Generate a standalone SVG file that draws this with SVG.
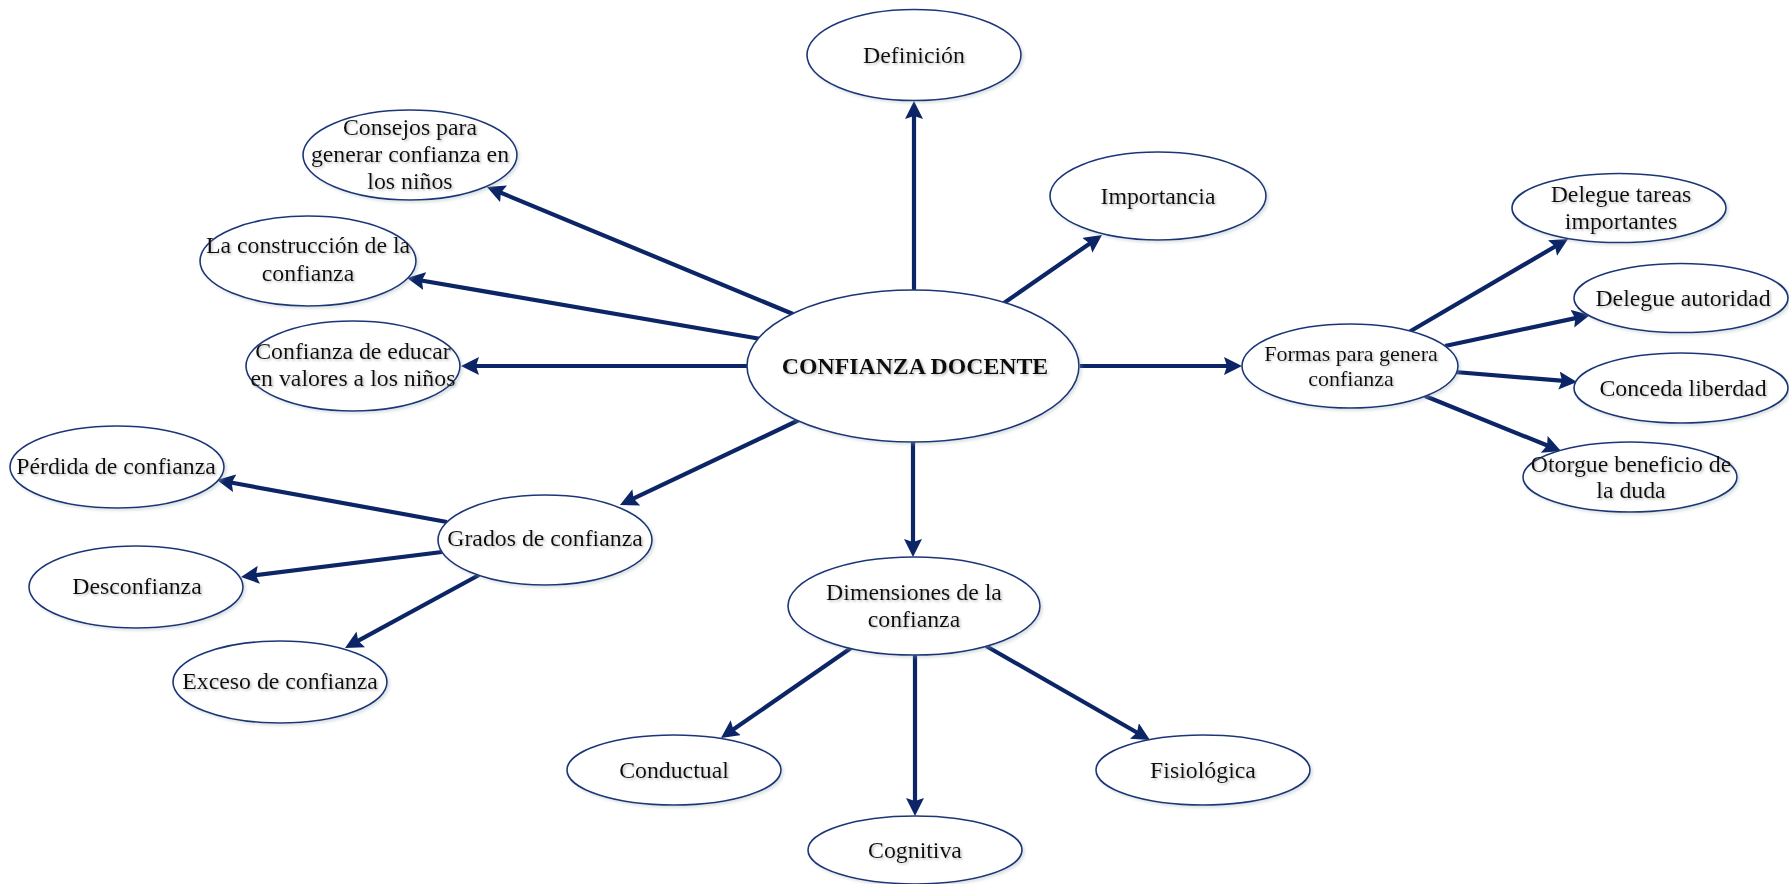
<svg xmlns="http://www.w3.org/2000/svg" width="1789" height="884" viewBox="0 0 1789 884">
<style>
.n ellipse{fill:#fff;stroke:#1a3679;stroke-width:1.6;filter:url(#sh)}
.n text{font-family:"Liberation Serif","Times New Roman",serif;font-size:23.8px;fill:#111;text-anchor:middle;filter:url(#ts)}
.e path{fill:none;stroke:#0b2566;stroke-width:4.2;marker-end:url(#ah)}
</style>
<defs>
<filter id="sh" x="-10%" y="-10%" width="125%" height="130%"><feDropShadow dx="2" dy="2" stdDeviation="1.5" flood-color="#9aa" flood-opacity="0.35"/></filter>
<filter id="ts" x="-10%" y="-30%" width="120%" height="160%"><feDropShadow dx="1.5" dy="1.5" stdDeviation="1" flood-color="#888" flood-opacity="0.55"/></filter>
<marker id="ah" markerUnits="userSpaceOnUse" viewBox="0 0 18 18" markerWidth="18" markerHeight="18" refX="8" refY="9" orient="auto"><path d="M0,0 L18,9 L0,18 L3,9 z" fill="#0b2566"/></marker>
</defs>
<g id="connectors" class="e">
<path d="M914,290 L914,111"/>
<path d="M1004,303 L1093.8,240.7"/>
<path d="M793,314 L496.2,190.8"/>
<path d="M761,339 L416.9,279.7"/>
<path d="M747,366 L471,366"/>
<path d="M799,420 L629,500.7"/>
<path d="M913,442 L913,547"/>
<path d="M1080,366 L1232,366"/>
<path d="M1409,332 L1559.4,244"/>
<path d="M1445,346 L1580.2,317.1"/>
<path d="M1455,372 L1567,381.2"/>
<path d="M1425,396 L1551.7,447.3"/>
<path d="M447,522 L226.8,481.8"/>
<path d="M442,552 L250.9,575.8"/>
<path d="M479,575 L353.8,643.2"/>
<path d="M851,648 L729.2,732.3"/>
<path d="M915,655 L915,806"/>
<path d="M986,646 L1141.3,735"/>
</g>
<g id="center" class="n"><ellipse cx="913" cy="366" rx="166" ry="76"/><text x="915" y="374" style="font-weight:bold">CONFIANZA DOCENTE</text></g>
<g id="definicion" class="n"><ellipse cx="914" cy="55" rx="107" ry="45.5"/><text x="914" y="63">Definición</text></g>
<g id="importancia" class="n"><ellipse cx="1158" cy="196" rx="108" ry="44"/><text x="1158" y="204">Importancia</text></g>
<g id="consejos" class="n"><ellipse cx="410" cy="155" rx="107" ry="45"/><text x="410" y="135">Consejos para</text><text x="410" y="162">generar confianza en</text><text x="410" y="189">los niños</text></g>
<g id="construccion" class="n"><ellipse cx="308" cy="261" rx="108" ry="45"/><text x="308" y="253">La construcción de la</text><text x="308" y="281">confianza</text></g>
<g id="educar" class="n"><ellipse cx="353" cy="366" rx="107" ry="45"/><text x="353" y="359">Confianza de educar</text><text x="353" y="386">en valores a los niños</text></g>
<g id="grados" class="n"><ellipse cx="545" cy="540" rx="107" ry="45"/><text x="545" y="546">Grados de confianza</text></g>
<g id="perdida" class="n"><ellipse cx="117" cy="467" rx="107" ry="41"/><text x="116" y="474">Pérdida de confianza</text></g>
<g id="desconfianza" class="n"><ellipse cx="136" cy="587" rx="107" ry="41"/><text x="137" y="594">Desconfianza</text></g>
<g id="exceso" class="n"><ellipse cx="280" cy="682" rx="107" ry="41"/><text x="280" y="689">Exceso de confianza</text></g>
<g id="dimensiones" class="n"><ellipse cx="914" cy="606" rx="126" ry="49"/><text x="914" y="600">Dimensiones de la</text><text x="914" y="627">confianza</text></g>
<g id="conductual" class="n"><ellipse cx="674" cy="770" rx="107" ry="35"/><text x="674" y="778">Conductual</text></g>
<g id="cognitiva" class="n"><ellipse cx="915" cy="850" rx="107" ry="34"/><text x="915" y="858">Cognitiva</text></g>
<g id="fisiologica" class="n"><ellipse cx="1203" cy="770" rx="107" ry="35"/><text x="1203" y="778">Fisiológica</text></g>
<g id="formas" class="n"><ellipse cx="1350" cy="366" rx="108" ry="42"/><text x="1351" y="361" style="font-size:22px">Formas para genera</text><text x="1351" y="386" style="font-size:22px">confianza</text></g>
<g id="tareas" class="n"><ellipse cx="1619" cy="208" rx="107" ry="34.5"/><text x="1621" y="202">Delegue tareas</text><text x="1621" y="229">importantes</text></g>
<g id="autoridad" class="n"><ellipse cx="1681" cy="298" rx="107" ry="34.5"/><text x="1683" y="306">Delegue autoridad</text></g>
<g id="liberdad" class="n"><ellipse cx="1681" cy="388" rx="107" ry="35"/><text x="1683" y="396">Conceda liberdad</text></g>
<g id="otorgue" class="n"><ellipse cx="1630" cy="477" rx="107" ry="35"/><text x="1631" y="472">Otorgue beneficio de</text><text x="1631" y="498">la duda</text></g>
</svg>
